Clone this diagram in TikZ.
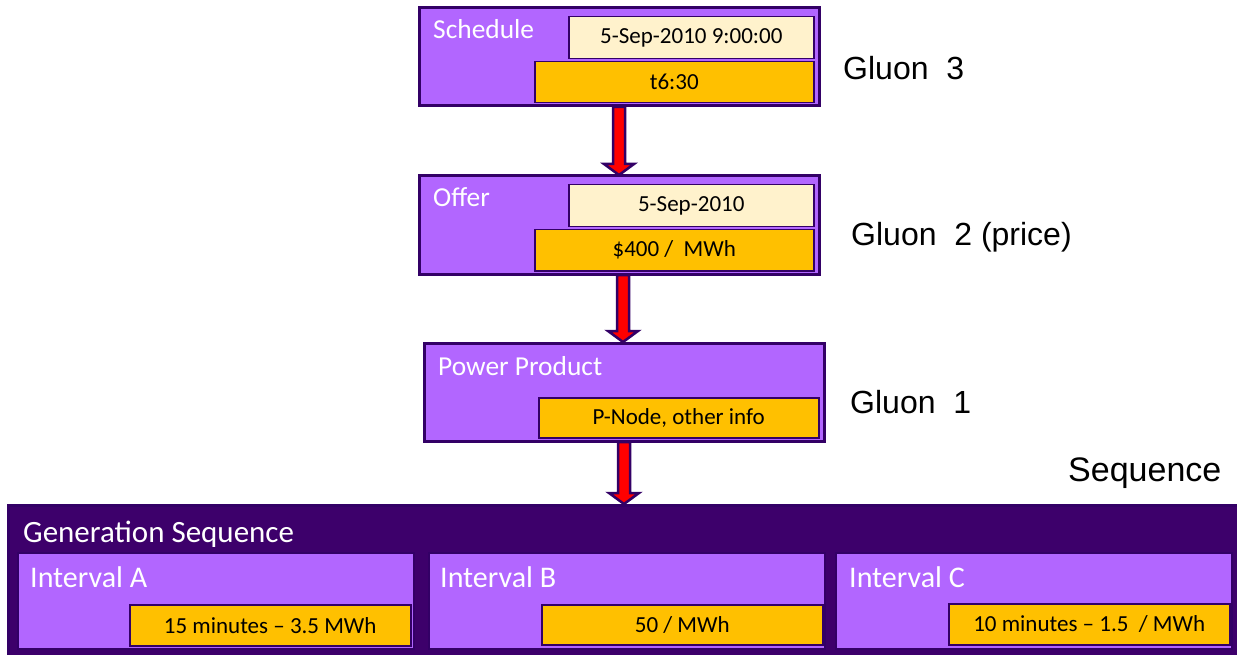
\documentclass[tikz,border=0pt]{standalone}
\usepackage{fontspec}
\setmainfont{Carlito}
\newfontfamily\arialf{Liberation Sans}
\usetikzlibrary{calc}
\definecolor{pu}{RGB}{178,102,255}
\definecolor{dk}{RGB}{51,0,102}
\definecolor{seqc}{RGB}{61,0,107}
\definecolor{cream}{RGB}{255,242,204}
\definecolor{orng}{RGB}{255,192,0}
\tikzset{
 outerbox/.style={draw=dk, fill=pu, line width=3pt, anchor=north west, inner sep=0pt, outer sep=0pt},
 intbox/.style={draw=dk, fill=pu, line width=2pt, anchor=north west, inner sep=0pt, outer sep=0pt, minimum width=396pt, minimum height=96pt},
 seqbox/.style={draw=dk, fill=seqc, line width=3pt, anchor=north west, inner sep=0pt, outer sep=0pt},
 creambox/.style={draw=dk, fill=cream, line width=1.5pt, anchor=north west, inner sep=0pt, font=\fontsize{23}{27}\selectfont},
 orbox/.style={draw=dk, fill=orng, line width=1.5pt, anchor=north west, inner sep=0pt, font=\fontsize{23}{27}\selectfont},
 boxtitle/.style={anchor=base west, text=white, font=\fontsize{27.4}{32}\selectfont, inner sep=0pt},
 bigtitle/.style={anchor=base west, text=white, font=\fontsize{31}{36}\selectfont, inner sep=0pt},
 inttitle/.style={anchor=base west, text=white, font=\fontsize{30}{35}\selectfont, inner sep=0pt},
 gluon/.style={anchor=base west, font=\arialf\fontsize{32}{37}\selectfont, inner sep=0pt},
 fatarr/.style={draw=dk, fill=red, line width=2.5pt, line join=miter}
}
\newcommand\fatarrow[2]{%
  \draw[fatarr] let \p1=(#1), \p2=(#2) in
    (\x1-6pt,\y1-1pt) -- (\x1-6pt,\y2+12pt) -- (\x1-15pt,\y2+12pt) -- (\x1,\y2+1pt)
    -- (\x1+15pt,\y2+12pt) -- (\x1+6pt,\y2+12pt) -- (\x1+6pt,\y1-1pt) -- cycle;}
\begin{document}
\begin{tikzpicture}[x=1pt,y=-1pt]
\useasboundingbox (0,0) rectangle (1237,655);
\clip (0,0) rectangle (1237,655);
% Schedule
\node[outerbox, minimum width=400pt, minimum height=98pt] (sched) at (419,8) {};
\node[creambox, minimum width=245pt, minimum height=42pt] (schedd) at (568,16) {5-Sep-2010 9:00:00};
\node[orbox, minimum width=279pt, minimum height=41pt] (schedt) at (534,61) {t6:30};
\node[boxtitle] (schedl) at (433,39) {Schedule};
% Offer
\node[outerbox, minimum width=400pt, minimum height=98pt] (offer) at (419,176) {};
\node[creambox, minimum width=245pt, minimum height=42pt] (offerd) at (568,184) {5-Sep-2010};
\node[orbox, minimum width=279pt, minimum height=41pt] (offerp) at (534,229) {\$400 /\ \ MWh};
\node[boxtitle] (offerl) at (433,207) {Offer};
% Power Product
\node[outerbox, minimum width=400pt, minimum height=98pt] (pp) at (424,343) {};
\node[orbox, minimum width=280pt, minimum height=40pt] (ppn) at (538,397) {P-Node, other info};
\node[boxtitle] (ppl) at (438,375) {Power Product};
% Sequence
\node[seqbox, minimum width=1260pt, minimum height=170pt] (seq) at (8,505) {};
\node[bigtitle] (seql) at (23,542) {Generation Sequence};
\node[intbox] (ia) at (18,553) {};
\node[intbox] (ib) at (429,553) {};
\node[intbox] (ic) at (836,553) {};
\node[inttitle] (ial) at (30,587) {Interval A};
\node[inttitle] (ibl) at (440,587) {Interval B};
\node[inttitle] (icl) at (849,587) {Interval C};
\node[orbox, minimum width=281pt, minimum height=41pt] (iav) at (129,604) {15 minutes – 3.5 MWh};
\node[orbox, minimum width=281pt, minimum height=40pt] (ibv) at (541,604) {50 / MWh};
\node[orbox, minimum width=281pt, minimum height=41pt] (icv) at (948,603) {10 minutes – 1.5\ \ / MWh};
% labels
\node[gluon] (g3) at (843,80) {Gluon\ \ 3};
\node[gluon] (g2) at (851,246) {Gluon\ \ 2 (price)};
\node[gluon] (g1) at (850,413) {Gluon\ \ 1};
\node[gluon, font=\arialf\fontsize{34}{39}\selectfont] (sq) at (1068,481) {Sequence};
% arrows
\coordinate (a1s) at (sched.south);
\coordinate (a1e) at (sched.south |- offer.north);
\fatarrow{a1s}{a1e}
\coordinate (a2s) at ($(offer.south)+(4,0)$);
\coordinate (a2e) at (a2s |- pp.north);
\fatarrow{a2s}{a2e}
\coordinate (a3s) at (pp.south);
\coordinate (a3e) at (pp.south |- seq.north);
\fatarrow{a3s}{a3e}
\end{tikzpicture}
\end{document}
